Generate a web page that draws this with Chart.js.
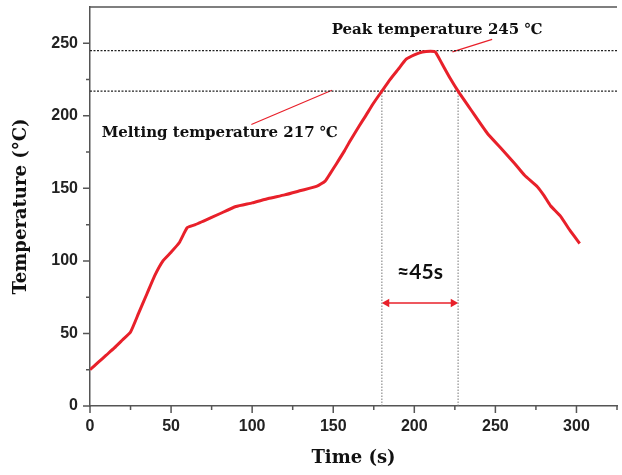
<!DOCTYPE html>
<html>
<head>
<meta charset="utf-8">
<script src="https://cdn.jsdelivr.net/npm/chart.js@4.4.1/dist/chart.umd.min.js"></script>
<style>
  html, body { margin: 0; padding: 0; background: #fff; }
  #holder { width: 622px; height: 475px; }
</style>
</head>
<body>
<div id="holder"><canvas id="reflow"></canvas></div>
<script>
// reflow profile, values
var time = [0, 5, 10, 15, 20, 25, 30, 35, 40, 45, 50, 55, 60, 65, 70, 80, 90, 100, 110, 120,
            130, 140, 145, 148, 152, 157, 160, 166, 170, 175, 180, 185, 190, 195, 200, 205, 210,
            213, 217, 222, 227, 235, 245, 254, 262, 268, 276, 280, 284, 290, 296, 302];
var temp = [25, 30, 35, 40, 45.5, 51, 64, 77, 90, 100, 106, 112.5, 123, 125, 127.5, 132.5, 137.5, 140, 143, 145.5,
            148.5, 151.5, 155, 160, 167, 176, 182, 193, 200, 209, 217, 225, 232, 239, 242, 244, 244.5,
            244, 236, 226, 217, 204, 188, 177, 167, 159, 151, 145, 138, 131, 121, 112];

var peakTemp = 245;
var meltTemp = 217;
var windowStart = 180;
var windowEnd = 227;
var arrowTemp = 71;

// annotation anchors (data units)
var noteText = ['Peak temperature 245 \u2103', 'Melting temperature 217 \u2103', '\u224845s'];
var noteX = [214, 80, 203.5];
var noteY = [259, 188, 92];
var peakLeaderX = [223.5, 248];
var peakLeaderY = [244.1, 252.7];
var meltLeaderX = [149.2, 99.5];
var meltLeaderY = [217.6, 194];

var xMax = 325, yMax = 275;

function pts(xs, ys) {
    return xs.map(function(x, i) { return {x: x, y: ys[i]}; });
}

var red = 'rgb(232, 32, 42)';

var decor = {
    id: 'decor',
    afterDatasetsDraw: function(chart) {
        var ctx = chart.ctx, xs = chart.scales.x, ys = chart.scales.y, area = chart.chartArea;
        ctx.save();
        ctx.strokeStyle = '#555';
        ctx.lineWidth = 1.5;
        ctx.beginPath();
        ctx.moveTo(area.left - 1, area.top);
        ctx.lineTo(area.right, area.top);
        var v, p, len;
        for (v = 0; v <= 250; v += 25) {
            p = ys.getPixelForValue(v);
            len = v % 50 ? 4 : 7;
            ctx.moveTo(area.left - len, p);
            ctx.lineTo(area.left, p);
        }
        for (v = 0; v <= xMax; v += 25) {
            p = xs.getPixelForValue(v);
            len = v % 50 ? 4 : 7;
            ctx.moveTo(p, area.bottom);
            ctx.lineTo(p, area.bottom + len);
        }
        ctx.stroke();

        ctx.fillStyle = '#111';
        ctx.textAlign = 'center';
        ctx.textBaseline = 'middle';
        for (var i = 0; i < noteText.length; i++) {
            ctx.font = i < 2 ? 'bold 15px "DejaVu Serif"' : 'bold 21px Lato';
            ctx.fillText(noteText[i], xs.getPixelForValue(noteX[i]), ys.getPixelForValue(noteY[i]));
        }
        ctx.restore();
    }
};

var config = {
    type: 'line',
    data: {
        datasets: [{
            data: pts(time, temp),
            borderColor: red,
            borderWidth: 3,
            pointRadius: 0,
            tension: 0.15
        }, {
            data: pts([0, xMax], [peakTemp, peakTemp]),
            borderColor: '#222',
            borderWidth: 1.3,
            borderDash: [2, 1.5],
            pointRadius: 0
        }, {
            data: pts([0, xMax], [meltTemp, meltTemp]),
            borderColor: '#222',
            borderWidth: 1.3,
            borderDash: [2, 1.5],
            pointRadius: 0
        }, {
            data: pts([windowStart, windowStart], [0, meltTemp]),
            borderColor: '#777',
            borderWidth: 1,
            borderDash: [1.5, 1.5],
            pointRadius: 0
        }, {
            data: pts([windowEnd, windowEnd], [0, meltTemp]),
            borderColor: '#777',
            borderWidth: 1,
            borderDash: [1.5, 1.5],
            pointRadius: 0
        }, {
            data: pts(peakLeaderX, peakLeaderY),
            borderColor: red,
            borderWidth: 1.2,
            pointRadius: 0
        }, {
            data: pts(meltLeaderX, meltLeaderY),
            borderColor: red,
            borderWidth: 1.2,
            pointRadius: 0
        }, {
            data: pts([windowStart + 3, windowEnd - 3], [arrowTemp, arrowTemp]),
            borderColor: red,
            borderWidth: 1.5,
            backgroundColor: red,
            pointStyle: 'triangle',
            pointRadius: 5,
            pointRotation: [270, 90],
            pointBorderWidth: 0
        }]
    },
    options: {
        responsive: true,
        maintainAspectRatio: false,
        animation: false,
        layout: { padding: { top: 7, right: 0, left: 0, bottom: 0 } },
        plugins: { legend: { display: false }, tooltip: { enabled: false } },
        scales: {
            x: {
                type: 'linear',
                min: 0,
                max: xMax,
                afterFit: function(s) { s.height = 69; },
                border: { color: '#555', width: 1.5 },
                grid: { drawOnChartArea: false, drawTicks: true, tickLength: 7, tickColor: 'transparent' },
                ticks: {
                    stepSize: 50,
                    includeBounds: false,
                    maxRotation: 0,
                    padding: 4,
                    color: '#222',
                    font: { family: '"Liberation Sans"', weight: 'bold', size: 16 }
                },
                title: {
                    display: true,
                    text: 'Time (s)',
                    color: '#111',
                    padding: { top: 0, bottom: 6 },
                    font: { family: '"DejaVu Serif"', weight: 'bold', size: 18 }
                }
            },
            y: {
                min: 0,
                max: yMax,
                afterFit: function(s) { s.width = 90; s.paddingTop = 0; },
                border: { color: '#555', width: 1.5 },
                grid: { drawOnChartArea: false, drawTicks: true, tickLength: 7, tickColor: 'transparent' },
                ticks: {
                    stepSize: 50,
                    includeBounds: false,
                    padding: 5,
                    color: '#222',
                    font: { family: '"Liberation Sans"', weight: 'bold', size: 16 }
                },
                title: {
                    display: true,
                    text: 'Temperature (\u00B0C)',
                    color: '#111',
                    padding: { top: 11, bottom: 0 },
                    font: { family: '"DejaVu Serif"', weight: 'bold', size: 18 }
                }
            }
        }
    },
    plugins: [decor]
};

var ctx = document.getElementById('reflow').getContext('2d');
window.reflowChart = new Chart(ctx, config);
</script>
</body>
</html>
